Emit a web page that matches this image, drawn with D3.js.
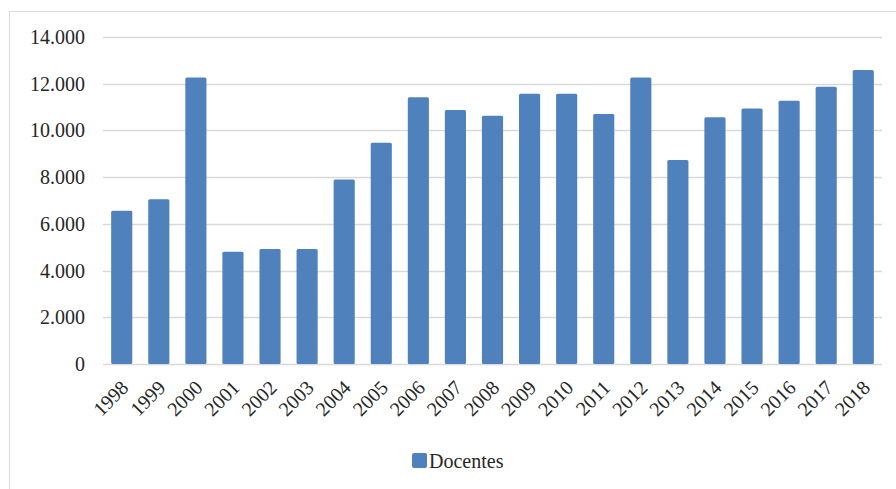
<!DOCTYPE html>
<html lang="pt">
<head>
    <meta charset="UTF-8">
    <script src="https://d3js.org/d3.v7.min.js"></script>
    <title>Docentes</title>
    <style>
        body { margin: 0; background: #fff; }
    </style>
</head>
<body>
    <script type="text/javascript">

var years    = ["1998","1999","2000","2001","2002","2003","2004","2005","2006","2007","2008",
                "2009","2010","2011","2012","2013","2014","2015","2016","2017","2018"];
var docentes = [6560, 7050, 12270, 4810, 4920, 4920, 7900, 9470, 11420, 10870, 10630,
                11570, 11570, 10700, 12270, 8730, 10560, 10940, 11270, 11870, 12590];
var yTicks   = [0, 2000, 4000, 6000, 8000, 10000, 12000, 14000];
var seriesName = "Docentes";

var width = 896, height = 489;
var plotLeft = 103, plotRight = 882, plotTop = 37, plotBottom = 364;
var font = "'Liberation Serif', 'Times New Roman', serif";

var svg = d3.select("body").append("svg")
    .attr("width", width)
    .attr("height", height);

// outer frame
svg.append("rect")
    .attr("x", 9.5).attr("y", 11.5)
    .attr("width", width).attr("height", height)
    .attr("fill", "none")
    .attr("stroke", "#d9d9d9");

var x = d3.scaleBand().domain(years).range([plotLeft, plotRight]).paddingInner(0.43).paddingOuter(0.22);
var y = d3.scaleLinear().domain([0, 14000]).range([plotBottom, plotTop]);

var fmt = function(v) { return d3.format(",")(v).replace(/,/g, "."); };

// gridlines
svg.append("g")
    .selectAll("line")
    .data(yTicks)
    .enter().append("line")
    .attr("x1", plotLeft).attr("x2", plotRight)
    .attr("y1", function(d) { return Math.round(y(d)) + 0.5; })
    .attr("y2", function(d) { return Math.round(y(d)) + 0.5; })
    .attr("stroke", "#d9d9d9")
    .attr("stroke-width", 1.5);

// y labels
svg.append("g")
    .selectAll("text")
    .data(yTicks)
    .enter().append("text")
    .attr("x", 85)
    .attr("y", function(d) { return y(d); })
    .attr("dy", "0.35em")
    .attr("text-anchor", "end")
    .style("font-family", font)
    .style("font-size", "20px")
    .attr("fill", "#262626")
    .text(fmt);

// bars
svg.append("g")
    .selectAll("rect")
    .data(docentes)
    .enter().append("rect")
    .attr("x", function(d, i) { return x(years[i]); })
    .attr("y", function(d) { return y(d); })
    .attr("width", x.bandwidth())
    .attr("height", function(d) { return y(0) - y(d); })
    .attr("rx", 1.5)
    .attr("fill", "#4f81bd");

// x labels, rotated
svg.append("g")
    .selectAll("text")
    .data(years)
    .enter().append("text")
    .attr("transform", function(d) {
        return "translate(" + (x(d) + x.bandwidth() / 2 + 3) + "," + (plotBottom + 20) + ") rotate(-45)";
    })
    .attr("text-anchor", "end")
    .attr("dy", "0.35em")
    .style("font-family", font)
    .style("font-size", "20px")
    .attr("fill", "#262626")
    .text(function(d) { return d; });

// legend
var lg = svg.append("g").attr("transform", "translate(412,453)");
lg.append("rect")
    .attr("width", 15).attr("height", 15)
    .attr("rx", 2)
    .attr("fill", "#4f81bd");
lg.append("text")
    .attr("x", 17).attr("y", 15)
    .style("font-family", font)
    .style("font-size", "20px")
    .attr("fill", "#262626")
    .text(seriesName);

    </script>
</body>
</html>
